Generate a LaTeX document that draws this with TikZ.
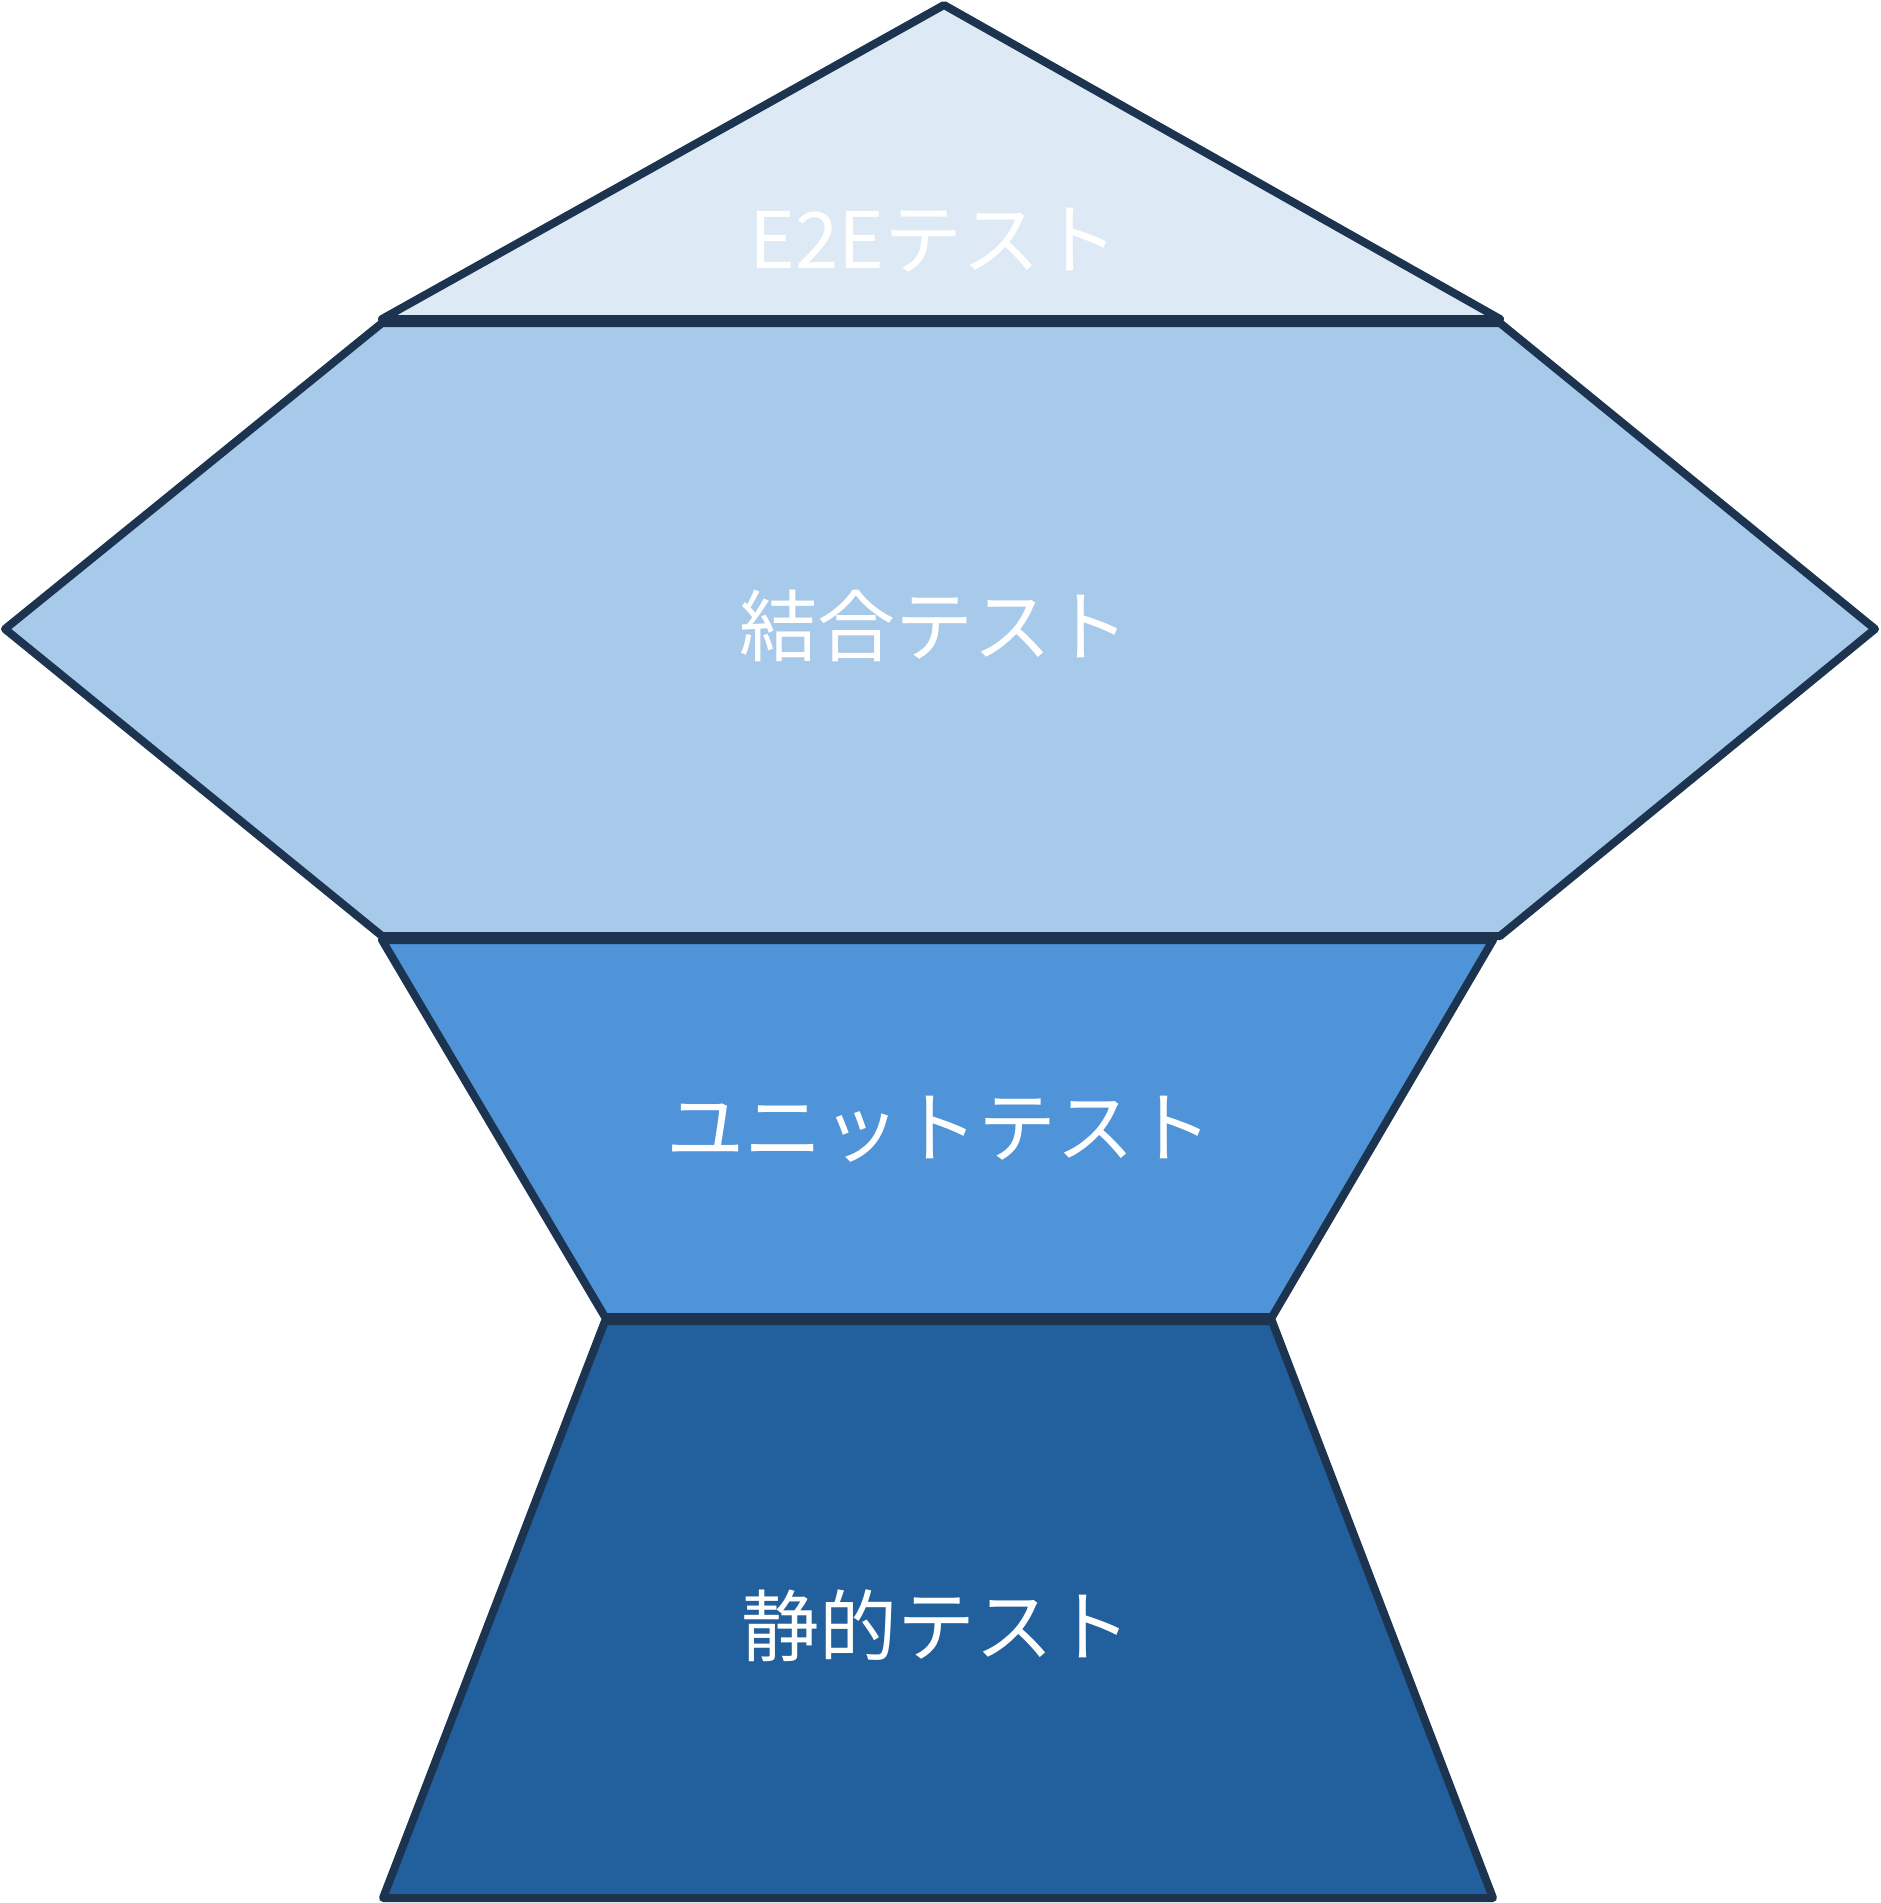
\documentclass[tikz,border=0pt]{standalone}
\usepackage{fontspec}
\newfontfamily\jpfont{Noto Sans CJK JP}
\definecolor{edge}{HTML}{1D3451}
\definecolor{cE}{HTML}{DDEAF6}
\definecolor{cI}{HTML}{A7C9EA}
\definecolor{cU}{HTML}{4F94D8}
\definecolor{cS}{HTML}{21609C}
\tikzset{
  layer/.style={draw=edge, line width=8pt, line join=round},
  lbl/.style={text=white, font=\jpfont\fontsize{78}{90}\selectfont, inner sep=0pt}
}
\begin{document}
\begin{tikzpicture}[x=1pt,y=-1pt]
\useasboundingbox (0,0) rectangle (1880,1903);
% E2E triangle
\coordinate (ta) at (944,5);
\coordinate (tr) at (1500,319);
\coordinate (tl) at (382,319);
\filldraw[layer, fill=cE] (ta) -- (tr) -- (tl) -- cycle;
% integration hexagon
\coordinate (h1) at (382,323);
\coordinate (h2) at (1500,323);
\coordinate (h3) at (1875,629);
\coordinate (h4) at (1500,936);
\coordinate (h5) at (382,936);
\coordinate (h6) at (5,629);
\filldraw[layer, fill=cI] (h1) -- (h2) -- (h3) -- (h4) -- (h5) -- (h6) -- cycle;
% unit trapezoid
\coordinate (u1) at (382,940);
\coordinate (u2) at (1493,940);
\coordinate (u3) at (1272,1317);
\coordinate (u4) at (605,1317);
\filldraw[layer, fill=cU] (u1) -- (u2) -- (u3) -- (u4) -- cycle;
% static trapezoid
\coordinate (s1) at (605,1321);
\coordinate (s2) at (1272,1321);
\coordinate (s3) at (1493,1898);
\coordinate (s4) at (383,1898);
\filldraw[layer, fill=cS] (s1) -- (s2) -- (s3) -- (s4) -- cycle;
% labels
\node[lbl] (le) at (934,240) {E2Eテスト};
\node[lbl] (li) at (934,626) {結合テスト};
\node[lbl] (lu) at (939,1129) {ユニットテスト};
\node[lbl] (ls) at (936,1626) {静的テスト};
\end{tikzpicture}
\end{document}
